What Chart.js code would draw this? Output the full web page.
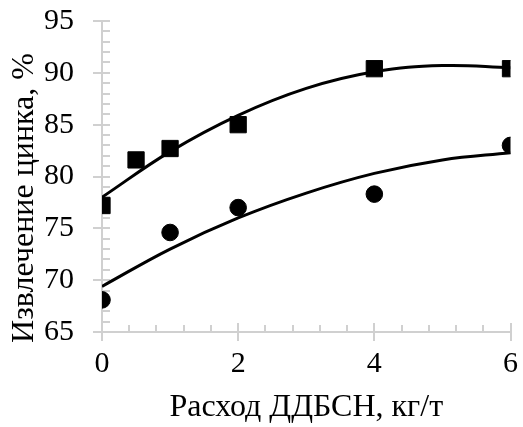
<!DOCTYPE html>
<html>
<head>
<meta charset="utf-8">
<script src="https://cdn.jsdelivr.net/npm/chart.js@4/dist/chart.umd.min.js"></script>
<style>
  html, body { margin: 0; padding: 0; background: #ffffff; }
  #wrap { width: 523px; height: 427px; }
</style>
</head>
<body>
<div id="wrap"><canvas id="zincChart" width="523" height="427"></canvas></div>
<script>
// values
const squareX = [0, 0.5, 1, 2, 4, 6];
const squareY = [77.2, 81.6, 82.7, 85.0, 90.4, 90.4];
const circleX = [0, 1, 2, 4, 6];
const circleY = [68.1, 74.6, 77.0, 78.3, 83.0];
// trend curves, read at whole x steps
const trendX = [0, 1, 2, 3, 4, 5, 6];
const squareTrend = [78.0, 82.4, 85.9, 88.5, 90.1, 90.7, 90.5];
const circleTrend = [69.4, 73.0, 76.0, 78.4, 80.3, 81.6, 82.3];
const xTicks = [0, 2, 4, 6];
const yTicks = [65, 70, 75, 80, 85, 90, 95];
const yTitle = 'Извлечение цинка, %';

const axisColor = '#d0d0d0';
const serif = "'Liberation Serif', 'Times New Roman', serif";

function toPoints(xs, ys) {
    return xs.map((x, i) => ({ x: x, y: ys[i] }));
}

// excel-like ticks: major ones cross the axis, minor ones point inwards
const axisTicks = {
    id: 'axisTicks',
    beforeDatasetsDraw(chart) {
        const ctx = chart.ctx;
        const xs = chart.scales.x;
        const ys = chart.scales.y;
        const x0 = xs.getPixelForValue(xs.min);
        const y0 = ys.getPixelForValue(ys.min);
        ctx.save();
        ctx.strokeStyle = axisColor;
        ctx.lineWidth = 2;
        ctx.beginPath();
        for (let v = xs.min; v <= xs.max + 1e-9; v += 0.4) {
            const px = Math.round(xs.getPixelForValue(v));
            const major = Math.abs(v / 2 - Math.round(v / 2)) < 1e-6;
            ctx.moveTo(px, major ? y0 + 9 : y0);
            ctx.lineTo(px, y0 - (major ? 9 : 7));
        }
        for (let v = ys.min; v <= ys.max + 1e-9; v += 1) {
            const py = Math.round(ys.getPixelForValue(v));
            const major = v % 5 === 0;
            ctx.moveTo(major ? x0 - 9 : x0, py);
            ctx.lineTo(x0 + 8, py);
        }
        ctx.stroke();

        // y title sits a bit lower than the plot centre, as in the original
        ctx.fillStyle = '#000000';
        ctx.font = '32px ' + serif;
        ctx.textAlign = 'center';
        ctx.textBaseline = 'middle';
        ctx.translate(25, 198);
        ctx.rotate(-Math.PI / 2);
        ctx.fillText(yTitle, 0, 0);
        ctx.restore();
    }
};

new Chart(document.getElementById('zincChart'), {
    type: 'scatter',
    data: {
        datasets: [{
            data: toPoints(squareX, squareY),
            pointStyle: 'rect',
            pointRadius: 11.5,
            pointBorderWidth: 1,
            backgroundColor: '#000000',
            borderColor: '#000000',
            showLine: false
        }, {
            data: toPoints(circleX, circleY),
            pointStyle: 'circle',
            pointRadius: 8.3,
            pointBorderWidth: 1,
            backgroundColor: '#000000',
            borderColor: '#000000',
            showLine: false
        }, {
            data: toPoints(trendX, squareTrend),
            showLine: true,
            pointRadius: 0,
            borderColor: '#000000',
            borderWidth: 3,
            tension: 0.4
        }, {
            data: toPoints(trendX, circleTrend),
            showLine: true,
            pointRadius: 0,
            borderColor: '#000000',
            borderWidth: 3,
            tension: 0.4
        }]
    },
    options: {
        responsive: false,
        animation: false,
        events: [],
        layout: { padding: { top: 21, right: 10, left: 0, bottom: 0 } },
        plugins: {
            legend: { display: false },
            tooltip: { enabled: false }
        },
        scales: {
            x: {
                type: 'linear',
                min: 0,
                max: 6,
                afterBuildTicks: function (scale) {
                    scale.ticks = xTicks.map(v => ({ value: v }));
                },
                afterFit: function (scale) { scale.height = 95; },
                // grid hidden; tickLength only keeps labels off the axis
                grid: { display: false, drawTicks: true, tickLength: 14 },
                border: { display: true, color: axisColor, width: 2 },
                ticks: {
                    padding: 0,
                    color: '#000000',
                    font: { family: serif, size: 30 }
                },
                title: {
                    display: true,
                    text: 'Расход ДДБСН, кг/т',
                    color: '#000000',
                    font: { family: serif, size: 32 },
                    padding: { top: 0, bottom: 0 }
                }
            },
            y: {
                min: 65,
                max: 95,
                afterBuildTicks: function (scale) {
                    scale.ticks = yTicks.map(v => ({ value: v }));
                },
                afterFit: function (scale) { scale.width = 102; },
                grid: { display: false, drawTicks: true, tickLength: 28 },
                border: { display: true, color: axisColor, width: 2 },
                ticks: {
                    padding: 0,
                    color: '#000000',
                    font: { family: serif, size: 30 }
                }
            }
        }
    },
    plugins: [axisTicks]
});
</script>
</body>
</html>
